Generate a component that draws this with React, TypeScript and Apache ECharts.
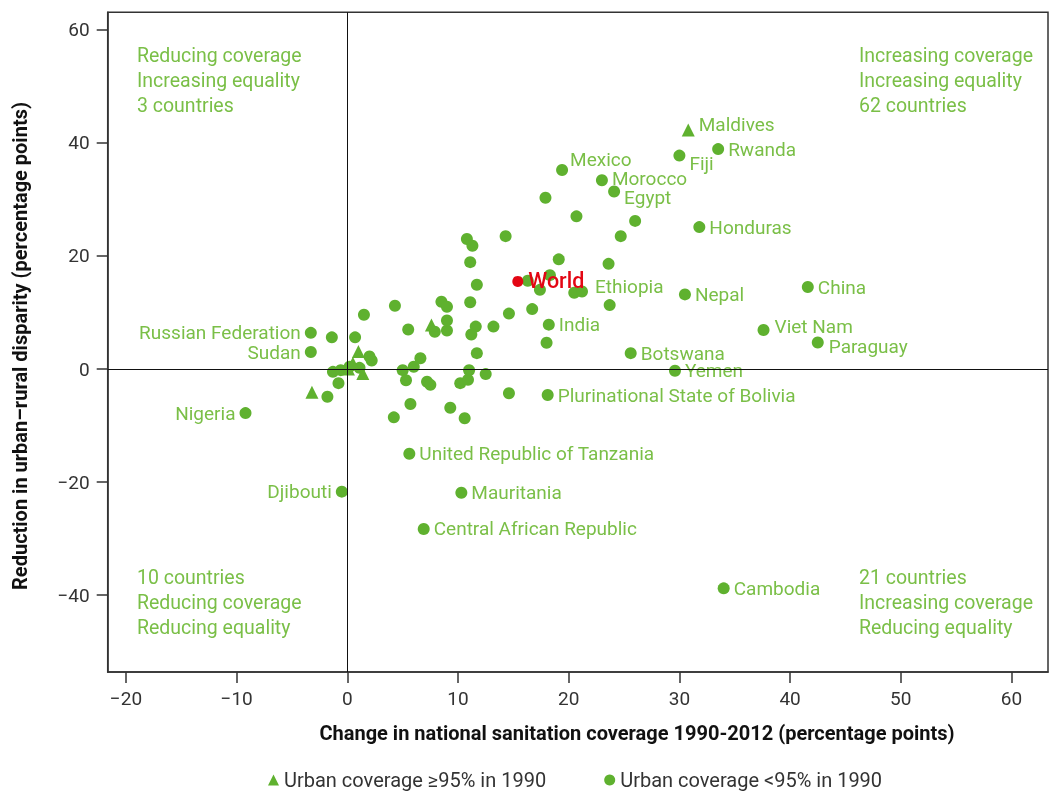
import React, { useEffect, useRef } from "react";
import * as echarts from "echarts";

// ---- Data ----
const labeledNames = [
  "Mexico", "Morocco", "Egypt", "Fiji", "Rwanda", "Honduras", "Nepal", "Ethiopia",
  "India", "China", "Viet Nam", "Paraguay", "Botswana", "Yemen",
  "Plurinational State of Bolivia", "United Republic of Tanzania", "Mauritania",
  "Central African Republic", "Cambodia", "Russian Federation", "Sudan", "Nigeria", "Djibouti",
];
const labeledX = [
  19.4, 23.0, 24.1, 30.0, 33.5, 31.8, 30.5, 21.2,
  18.2, 41.6, 37.6, 42.5, 25.6, 29.6,
  18.1, 5.6, 10.3,
  6.9, 34.0, -3.3, -3.3, -9.2, -0.5,
];
const labeledY = [
  35.2, 33.4, 31.4, 37.75, 38.9, 25.1, 13.2, 13.7,
  7.85, 14.5, 6.9, 4.7, 2.8, -0.3,
  -4.6, -15.0, -21.9,
  -28.3, -38.8, 6.4, 3.0, -7.8, -21.7,
];
const leftLabeled = ["Russian Federation", "Sudan", "Nigeria", "Djibouti"];

const otherX = [
  -1.4, 0.7, 2.0, 2.2, -1.3, -0.6, 0.2, 1.1, -0.8, -1.8,
  1.5, 4.3, 5.5, 7.9, 9.0, 9.0, 8.5, 9.0, 6.6, 6.0,
  5.0, 5.3, 7.2, 7.5, 10.2, 10.9, 11.0, 12.5, 5.7, 4.2,
  9.3, 10.6, 14.6, 10.8, 11.3, 14.3, 24.7, 11.1, 19.1, 23.6,
  11.7, 16.3, 17.4, 18.3, 20.5, 11.1, 23.7, 14.6, 16.7, 11.6,
  11.2, 13.2, 18.0, 11.7, 17.9, 20.7, 26.0,
];
const otherY = [
  5.6, 5.6, 2.2, 1.5, -0.5, -0.2, 0.4, 0.2, -2.5, -4.9,
  9.6, 11.2, 7.0, 6.6, 6.8, 8.6, 11.9, 11.0, 1.9, 0.4,
  -0.2, -2.0, -2.25, -2.8, -2.5, -1.9, -0.2, -0.9, -6.2, -8.55,
  -6.85, -8.7, -4.3, 23.0, 21.8, 23.5, 23.5, 18.9, 19.4, 18.6,
  14.9, 15.6, 14.0, 16.6, 13.5, 11.8, 11.3, 9.8, 10.6, 7.5,
  6.1, 7.5, 4.65, 2.8, 30.3, 27.0, 26.2,
];

const triangleNames = ["Maldives", "", "", "", "", "", ""];
const triangleX = [30.8, 1.0, -3.2, 1.4, 0.1, 0.5, 7.6];
const triangleY = [42.3, 3.1, -4.1, -0.8, 0.0, 1.0, 7.8];

const worldX = [15.4];
const worldY = [15.5];

const xTicks = [-20, -10, 0, 10, 20, 30, 40, 50, 60];
const yTicks = [-40, -20, 0, 20, 40, 60];

const legendTriangle = "Urban coverage \u226595% in 1990";
const legendCircle = "Urban coverage <95% in 1990";

// label nudges (style only)
const labelNudge: Record<string, [number, number]> = {
  Mexico: [-2, -11],
  Morocco: [0, -2],
  Egypt: [0, 6],
  Fiji: [0, 8],
  Maldives: [0, -5],
  Ethiopia: [3, -5],
  "Viet Nam": [1, -3],
  Paraguay: [1, 4],
};

const FONT = "Roboto";
const DOT = "#5fb12f";
const LABEL = "#7abf47";
const RED = "#e30613";
const LABEL_SIZE = 19;
const QUAD_SIZE = 19.5;

export default function App() {
  const ref = useRef<HTMLDivElement>(null);
  useEffect(() => {
    if (!ref.current) return;
    const chart = echarts.init(ref.current, null, { renderer: "svg" });

    const labeledData = labeledNames.map((n, i) => {
      const left = leftLabeled.includes(n);
      return {
        name: n,
        value: [labeledX[i], labeledY[i]],
        label: {
          show: true,
          position: left ? "left" : "right",
          offset: labelNudge[n] || [0, 0],
        },
      };
    });
    const otherData = otherX.map((x, i) => [x, otherY[i]]);
    const triData = triangleX.map((x, i) => ({
      name: triangleNames[i],
      value: [x, triangleY[i]],
      label: {
        show: triangleNames[i] !== "",
        position: "right",
        offset: labelNudge[triangleNames[i]] || [0, 0],
      },
    }));
    const worldData = worldX.map((x, i) => ({ name: "World", value: [x, worldY[i]] }));

    const labelStyle = {
      formatter: "{b}",
      color: LABEL,
      fontFamily: FONT,
      fontSize: LABEL_SIZE,
      lineHeight: 16,
      distance: 4,
    };

    const quadText = (
      x: number,
      y: number,
      lines: string,
      align: "left" | "right"
    ) => ({
      type: "text",
      left: align === "left" ? x : undefined,
      right: align === "right" ? x : undefined,
      top: y,
      silent: true,
      style: {
        text: lines,
        fill: LABEL,
        font: `${QUAD_SIZE}px ${FONT}`,
        lineHeight: 25,
        align,
      },
    });

    chart.setOption({
      animation: false,
      grid: {
        left: 107.7,
        top: 12.3,
        right: 1,
        bottom: 791 - 672,
        show: true,
        borderColor: "#333",
        borderWidth: 1.5,
        backgroundColor: "transparent",
      },
      xAxis: {
        type: "value",
        min: -21.65,
        max: 63.3,
        splitLine: { show: false },
        axisLine: { show: true, onZero: false, lineStyle: { color: "#333", width: 1.5 } },
        axisTick: {
          show: true,
          length: 11,
          customValues: xTicks,
          lineStyle: { color: "#333", width: 1.5 },
        },
        axisLabel: {
          customValues: xTicks,
          color: "#333",
          fontFamily: FONT,
          fontSize: 19,
          margin: 17,
          formatter: (v: number) => (v < 0 ? "\u2212" + Math.abs(v) : String(v)),
        },
      },
      yAxis: {
        type: "value",
        min: -53.6,
        max: 63.1,
        splitLine: { show: false },
        axisLine: { show: true, onZero: false, lineStyle: { color: "#333", width: 1.5 } },
        axisTick: {
          show: true,
          length: 11,
          customValues: yTicks,
          lineStyle: { color: "#333", width: 1.5 },
        },
        axisLabel: {
          customValues: yTicks,
          color: "#333",
          fontFamily: FONT,
          fontSize: 19,
          margin: 18,
          formatter: (v: number) => (v < 0 ? "\u2212" + Math.abs(v) : String(v)),
        },
      },
      legend: {
        left: 268,
        top: 770,
        padding: 0,
        itemWidth: 11,
        itemHeight: 11,
        itemGap: 58,
        textStyle: { color: "#333", fontFamily: FONT, fontSize: 20, lineHeight: 20 },
        data: [
          { name: legendTriangle, icon: "triangle" },
          { name: legendCircle, icon: "circle" },
        ],
      },
      graphic: [
        quadText(137, 43, "Reducing coverage\nIncreasing equality\n3 countries", "left"),
        quadText(16, 43, "Increasing coverage\nIncreasing equality\n62 countries", "right"),
        quadText(137, 565, "10 countries\nReducing coverage\nReducing equality", "left"),
        quadText(16, 565, "21 countries\nIncreasing coverage\nReducing equality", "right"),
        {
          type: "text",
          x: 637,
          y: 733,
          silent: true,
          style: {
            text: "Change in national sanitation coverage 1990-2012 (percentage points)",
            fill: "#111",
            font: `bold 20px ${FONT}`,
            align: "center",
            verticalAlign: "middle",
          },
        },
        {
          type: "text",
          x: 20,
          y: 346,
          rotation: Math.PI / 2,
          silent: true,
          style: {
            text: "Reduction in urban\u2013rural disparity (percentage points)",
            fill: "#111",
            font: `bold 20px ${FONT}`,
            align: "center",
            verticalAlign: "middle",
          },
        },
      ],
      series: [
        {
          type: "line",
          data: [],
          silent: true,
          z: 1,
          markLine: {
            silent: true,
            symbol: "none",
            label: { show: false },
            lineStyle: { color: "#111", width: 1, type: "solid" },
            data: [{ xAxis: 0 }, { yAxis: 0 }],
          },
        },
        {
          name: legendCircle,
          type: "scatter",
          symbol: "circle",
          symbolSize: 12,
          itemStyle: { color: DOT, opacity: 1 },
          z: 3,
          data: otherData,
        },
        {
          name: legendCircle,
          type: "scatter",
          symbol: "circle",
          symbolSize: 12,
          itemStyle: { color: DOT, opacity: 1 },
          label: labelStyle,
          z: 3,
          data: labeledData,
        },
        {
          name: legendTriangle,
          type: "scatter",
          symbol: "triangle",
          symbolSize: 13,
          itemStyle: { color: DOT, opacity: 1 },
          label: labelStyle,
          z: 3,
          data: triData,
        },
        {
          name: "World",
          type: "scatter",
          symbol: "circle",
          symbolSize: 11,
          itemStyle: { color: RED, opacity: 1 },
          label: {
            show: true,
            formatter: "{b}",
            position: "right",
            distance: 4,
            offset: [1, -1],
            color: RED,
            fontFamily: FONT,
            fontSize: 21.5,
            fontWeight: 500,
          },
          z: 4,
          data: worldData,
        },
      ],
    });
    return () => chart.dispose();
  }, []);

  return (
    <div
      ref={ref}
      style={{ position: "fixed", left: 0, top: 0, width: 1049, height: 791 }}
    />
  );
}
